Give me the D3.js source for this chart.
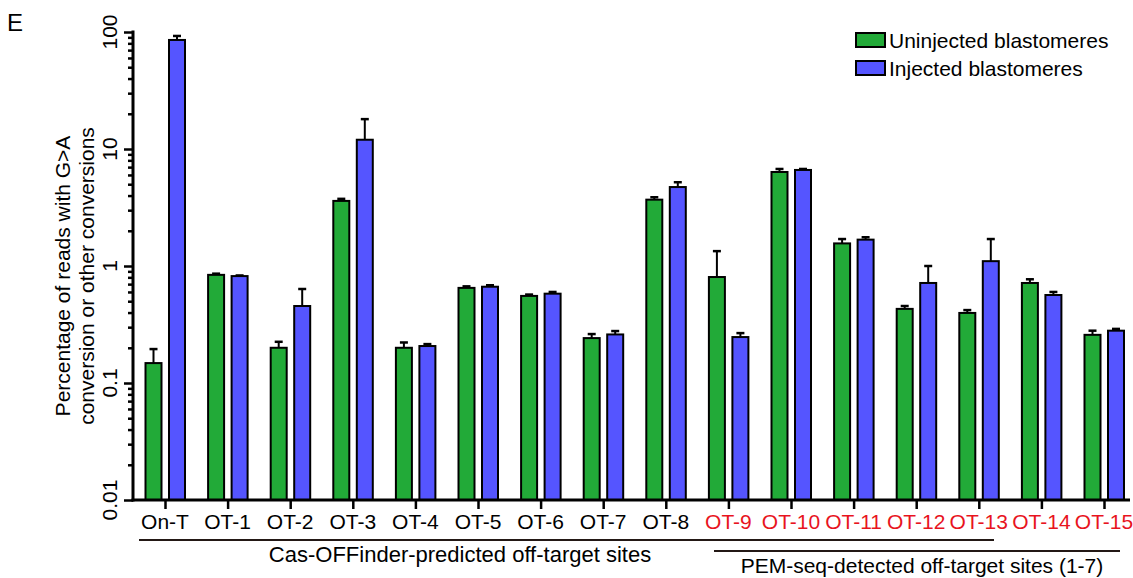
<!DOCTYPE html>
<html><head><meta charset="utf-8">
<script src="https://cdn.jsdelivr.net/npm/d3@7"></script>
<style>
body{margin:0;background:#fff;}
svg text{font-family:"Liberation Sans",Arial,sans-serif;}
</style></head>
<body><svg id="c" width="1133" height="578"></svg>
<script>
const categories = ["On-T","OT-1","OT-2","OT-3","OT-4","OT-5","OT-6","OT-7","OT-8","OT-9","OT-10","OT-11","OT-12","OT-13","OT-14","OT-15"];
const redLabels = ["OT-9","OT-10","OT-11","OT-12","OT-13","OT-14","OT-15"];
const uninjected = [0.148,0.84,0.20,3.6,0.20,0.65,0.555,0.242,3.69,0.805,6.36,1.56,0.43,0.397,0.716,0.258];
const uninjectedErr = [0.195,0.86,0.225,3.75,0.222,0.67,0.57,0.262,3.87,1.34,6.75,1.7,0.455,0.42,0.77,0.28];
const injected = [85.5,0.82,0.455,12.0,0.207,0.665,0.58,0.26,4.73,0.247,6.62,1.68,0.716,1.10,0.565,0.28];
const injectedErr = [92.5,0.83,0.636,18.0,0.215,0.685,0.60,0.278,5.2,0.267,6.75,1.76,1.0,1.7,0.60,0.29];
const seriesNames = ["Uninjected blastomeres","Injected blastomeres"];
const colors = ["#22AA38","#5555FF"];
const majorTicks = [0.01,0.1,1,10,100];
const majorLabels = ["0.01","0.1","1","10","100"];
const yTitle = ["Percentage of reads with G>A","conversion or other conversions"];
const groupLabels = ["Cas-OFFinder-predicted off-target sites","PEM-seq-detected off-target sites (1-7)"];

const svg = d3.select("#c");
const y = d3.scaleLog().domain([0.01,100]).range([500,32]);
const x = d3.scalePoint().domain(categories).range([165,1104]);
const barW = 16;
const offsets = [-19.5, 4];
const fs = 21;

// panel letter
svg.append("text").attr("x",7).attr("y",31).attr("font-size",24).text("E");

// bars
const series = [
  {vals: uninjected, errs: uninjectedErr, color: colors[0], off: offsets[0]},
  {vals: injected, errs: injectedErr, color: colors[1], off: offsets[1]}
];
series.forEach(s=>{
  const g = svg.append("g");
  categories.forEach((c,i)=>{
    const bx = x(c)+s.off, cx = bx+barW/2;
    g.append("line").attr("x1",cx).attr("x2",cx).attr("y1",y(s.vals[i])).attr("y2",y(s.errs[i]))
      .attr("stroke","#000").attr("stroke-width",2);
    g.append("line").attr("x1",cx-4).attr("x2",cx+4).attr("y1",y(s.errs[i])).attr("y2",y(s.errs[i]))
      .attr("stroke","#000").attr("stroke-width",2.5);
    g.append("rect").attr("x",bx).attr("y",y(s.vals[i])).attr("width",barW)
      .attr("height",y(0.01)-y(s.vals[i])).attr("fill",s.color).attr("stroke","#000").attr("stroke-width",2);
  });
});

// y axis
const minor = [];
[0.01,0.1,1,10].forEach(d=>{for(let k=2;k<=9;k++) minor.push(d*k);});
const yMinor = svg.append("g").attr("transform","translate(133,0)")
  .call(d3.axisLeft(y).tickValues(minor).tickSize(5).tickFormat(""));
const yMajor = svg.append("g").attr("transform","translate(133,0)")
  .call(d3.axisLeft(y).tickValues(majorTicks).tickSize(9).tickFormat(""));
[yMinor,yMajor].forEach(a=>{
  a.select(".domain").remove();
  a.selectAll(".tick line").attr("stroke","#000").attr("stroke-width",2.5);
});
svg.append("line").attr("x1",133).attr("x2",133).attr("y1",30.5).attr("y2",501.5).attr("stroke","#000").attr("stroke-width",3);
majorTicks.forEach((v,i)=>{
  svg.append("text").attr("transform",`translate(117,${y(v)}) rotate(-90)`)
    .attr("text-anchor","middle").attr("font-size",fs).text(majorLabels[i]);
});
yTitle.forEach((t,i)=>{
  svg.append("text").attr("transform",`translate(${70+i*24},276) rotate(-90)`)
    .attr("text-anchor","middle").attr("font-size",fs).text(t);
});

// x axis
const xAx = svg.append("g").attr("transform","translate(0,500)")
  .call(d3.axisBottom(x).tickSize(9).tickFormat(""));
xAx.select(".domain").remove();
xAx.selectAll(".tick line").attr("stroke","#000").attr("stroke-width",2.5);
svg.append("line").attr("x1",131.5).attr("x2",1130).attr("y1",500).attr("y2",500).attr("stroke","#000").attr("stroke-width",3);
categories.forEach(c=>{
  svg.append("text").attr("x",x(c)).attr("y",529).attr("text-anchor","middle").attr("font-size",fs)
    .attr("fill", redLabels.includes(c) ? "#E8141E" : "#000").text(c);
});

// group brackets
svg.append("line").attr("x1",139).attr("x2",994).attr("y1",540).attr("y2",540).attr("stroke","#231815").attr("stroke-width",2);
svg.append("text").attr("x",460).attr("y",562).attr("text-anchor","middle").attr("font-size",22).text(groupLabels[0]);
svg.append("line").attr("x1",714).attr("x2",1120).attr("y1",551).attr("y2",551).attr("stroke","#231815").attr("stroke-width",2);
svg.append("text").attr("x",922).attr("y",573).attr("text-anchor","middle").attr("font-size",21).text(groupLabels[1]);

// legend
seriesNames.forEach((n,i)=>{
  svg.append("rect").attr("x",856).attr("y",33+i*28).attr("width",29).attr("height",14)
    .attr("fill",colors[i]).attr("stroke","#000").attr("stroke-width",2);
  svg.append("text").attr("x",889).attr("y",48+i*28).attr("font-size",fs).text(n);
});
</script></body></html>
